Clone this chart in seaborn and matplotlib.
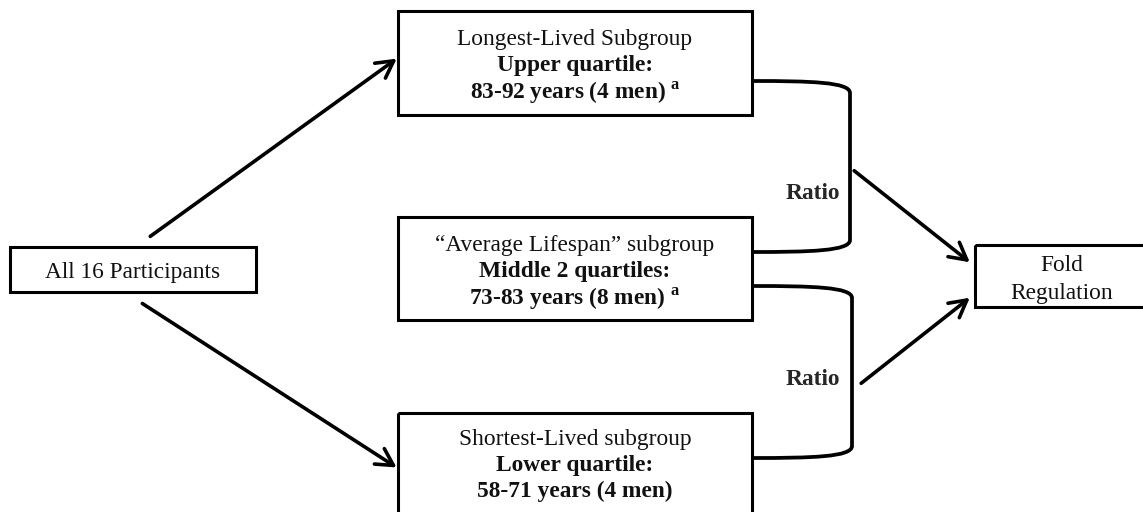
import matplotlib
matplotlib.use("Agg")
import matplotlib.pyplot as plt
import seaborn as sns
from matplotlib.patches import Rectangle, FancyArrowPatch, PathPatch
from matplotlib.path import Path

# text content of the flow chart
left_label = "All 16 Participants"
top_lines = ["Longest-Lived Subgroup", "Upper quartile:",
             r"83-92 years (4 men) $^{\mathbf{a}}$"]
mid_lines = ["\u201cAverage Lifespan\u201d subgroup", "Middle 2 quartiles:",
             r"73-83 years (8 men) $^{\mathbf{a}}$"]
bot_lines = ["Shortest-Lived subgroup", "Lower quartile:",
             "58-71 years (4 men)"]
right_lines = ["Fold", "Regulation"]
ratio_label = "Ratio"

sns.set_theme(style="white")
plt.rcParams["font.family"] = ["Liberation Serif", "DejaVu Serif"]
plt.rcParams["mathtext.fontset"] = "custom"
plt.rcParams["mathtext.rm"] = "Liberation Serif"
plt.rcParams["mathtext.bf"] = "Liberation Serif:bold"

fig = plt.figure(figsize=(11.43, 5.12), dpi=100)
ax = fig.add_axes([0, 0, 1, 1])
ax.set_xlim(0, 1143)
ax.set_ylim(512, 0)
ax.axis("off")

LW = 2.2
FS = 16.8


def box(x0, y0, x1, y1):
    ax.add_patch(Rectangle((x0, y0), x1 - x0, y1 - y0, fill=False,
                           edgecolor="black", linewidth=LW, zorder=2))


def lines3(cx, cy, lines, gap=26):
    weights = ["normal", "bold", "bold"]
    for i, (t, w) in enumerate(zip(lines, weights)):
        ax.text(cx, cy + (i - 1) * gap, t, ha="center", va="center_baseline",
                fontsize=FS, fontweight=w, color="#111111")


def arrow(p0, p1):
    ax.add_patch(FancyArrowPatch(p0, p1, arrowstyle="->,head_length=0.55,head_width=0.3",
                                 mutation_scale=22, linewidth=LW + 0.4,
                                 color="black", zorder=3))


def bracket(xa, ya, xb, yb, xr):
    verts = [(xa, ya), (xr - 40, ya), (xr, ya + 1), (xr, ya + 12),
             (xr, yb - 12), (xr, yb - 1), (xr - 40, yb), (xb, yb)]
    codes = [Path.MOVETO, Path.CURVE4, Path.CURVE4, Path.CURVE4,
             Path.LINETO, Path.CURVE4, Path.CURVE4, Path.CURVE4]
    ax.add_patch(PathPatch(Path(verts, codes), fill=False, linewidth=LW + 0.5,
                           edgecolor="black", capstyle="butt", zorder=2))


# boxes
box(10, 247, 256, 292)
box(398, 11, 752, 115)
box(398, 217, 752, 320)
box(398, 413, 752, 530)
box(975, 245, 1160, 307)

ax.text(133, 270, left_label, ha="center", va="center_baseline", fontsize=FS, color="#111111")
lines3(575, 63, top_lines)
lines3(575, 269, mid_lines)
lines3(575, 463, bot_lines)
ax.text(1062, 263, right_lines[0], ha="center", va="center_baseline", fontsize=FS, color="#111111")
ax.text(1062, 291, right_lines[1], ha="center", va="center_baseline", fontsize=FS, color="#111111")

# brackets and ratio labels
bracket(753, 81, 753, 252, 850)
bracket(753, 286, 753, 458, 852)
ax.text(813, 191, ratio_label, ha="center", va="center_baseline", fontsize=FS, fontweight="bold")
ax.text(813, 377, ratio_label, ha="center", va="center_baseline", fontsize=FS, fontweight="bold")

# arrows
arrow((148, 238), (399, 57))
arrow((140, 302), (399, 469))
arrow((852, 169), (972, 264))
arrow((859, 385), (972, 296))

fig.savefig("out.png", dpi=100, facecolor="white")
